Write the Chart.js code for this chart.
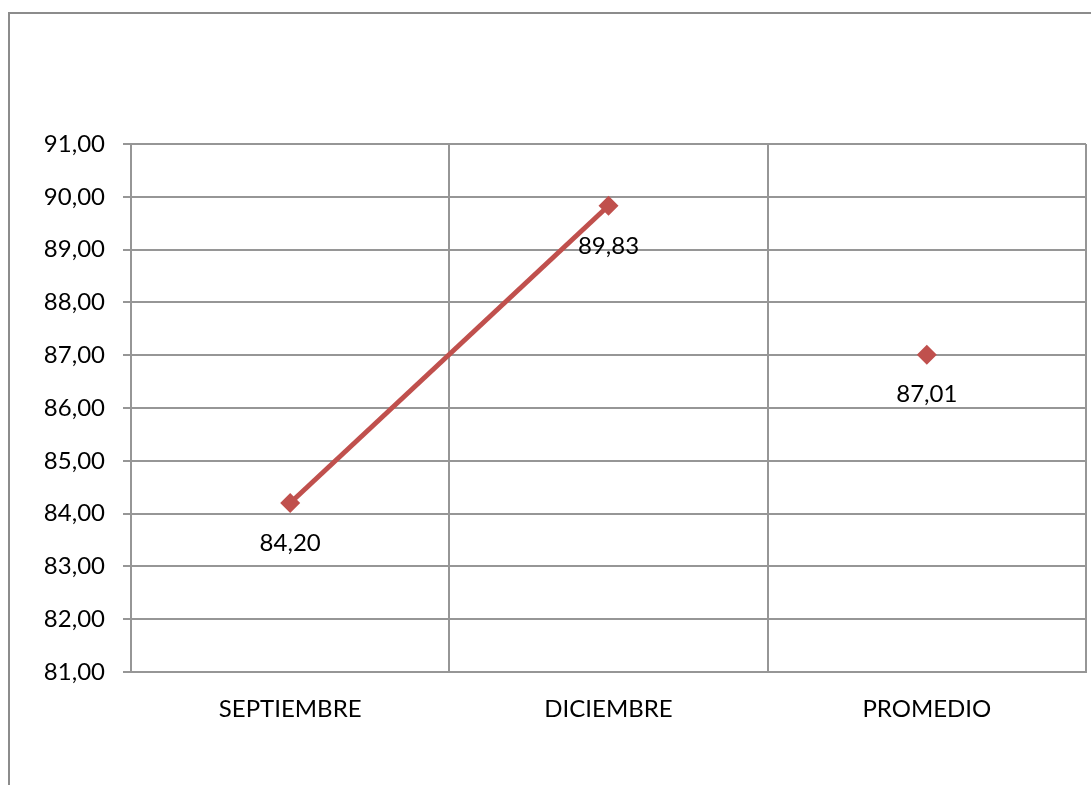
<!DOCTYPE html>
<html>
<head>
<meta charset="utf-8">
<script src="https://cdn.jsdelivr.net/npm/chart.js@4"></script>
<style>
  html, body { margin: 0; padding: 0; background: #fff; overflow: hidden; }
  #wrap { position: relative; width: 1091px; height: 785px; overflow: hidden; }
  #frame {
    position: absolute; left: 8px; top: 12px; width: 1200px; height: 900px;
    border: 2px solid #8c8c8c; box-sizing: border-box;
  }
  canvas { position: absolute; left: 0; top: 0; }
</style>
</head>
<body>
<div id="wrap">
  <div id="frame"></div>
  <canvas id="chart" width="1096" height="785"></canvas>
</div>
<script>
const categories = ['SEPTIEMBRE', 'DICIEMBRE', 'PROMEDIO'];
const monthValues = [84.20, 89.83, null];
const averageValues = [null, null, 87.01];
const yMin = 81;
const yMax = 91;

const RED = '#C0504D';
const GRID = '#969696';
const FONT = 'Lato, "Open Sans", sans-serif';

const fmt = v => v.toFixed(2).replace('.', ',');

// value labels under every point
const pointLabels = {
  id: 'pointLabels',
  afterDatasetsDraw(chart) {
    const ctx = chart.ctx;
    ctx.save();
    ctx.font = '24px ' + FONT;
    ctx.fillStyle = '#000';
    ctx.textAlign = 'center';
    ctx.textBaseline = 'middle';
    chart.data.datasets.forEach((ds, i) => {
      chart.getDatasetMeta(i).data.forEach((pt, j) => {
        const v = ds.data[j];
        if (v == null) return;
        ctx.fillText(fmt(v), pt.x, pt.y + 40);
      });
    });
    ctx.restore();
  }
};

new Chart(document.getElementById('chart'), {
  type: 'line',
  data: {
    labels: categories,
    datasets: [
      {
        data: monthValues,
        borderColor: RED,
        backgroundColor: RED,
        borderWidth: 5,
        pointStyle: 'rectRot',
        pointRadius: 10,
        pointBorderWidth: 0,
        spanGaps: false,
        clip: false
      },
      {
        data: averageValues,
        showLine: false,
        borderColor: RED,
        backgroundColor: RED,
        pointStyle: 'rectRot',
        pointRadius: 10,
        pointBorderWidth: 0,
        clip: false
      }
    ]
  },
  options: {
    responsive: false,
    animation: false,
    layout: { padding: { left: 0, top: 144, right: 0, bottom: 0 } },
    plugins: { legend: { display: false }, tooltip: { enabled: false } },
    scales: {
      x: {
        offset: true,
        afterFit: s => { s.height = 113; },
        grid: { offset: true, color: GRID, lineWidth: 2, drawTicks: false },
        border: { color: GRID, width: 2 },
        ticks: { color: '#000', padding: 23, font: { family: FONT, size: 24 } }
      },
      y: {
        min: yMin,
        max: yMax,
        afterFit: s => { s.width = 131; },
        grid: { color: GRID, lineWidth: 2, tickLength: 8 },
        border: { color: GRID, width: 2 },
        ticks: {
          stepSize: 1,
          color: '#000',
          padding: 18,
          font: { family: FONT, size: 24 },
          callback: v => fmt(v)
        }
      }
    }
  },
  plugins: [pointLabels]
});
</script>
</body>
</html>
